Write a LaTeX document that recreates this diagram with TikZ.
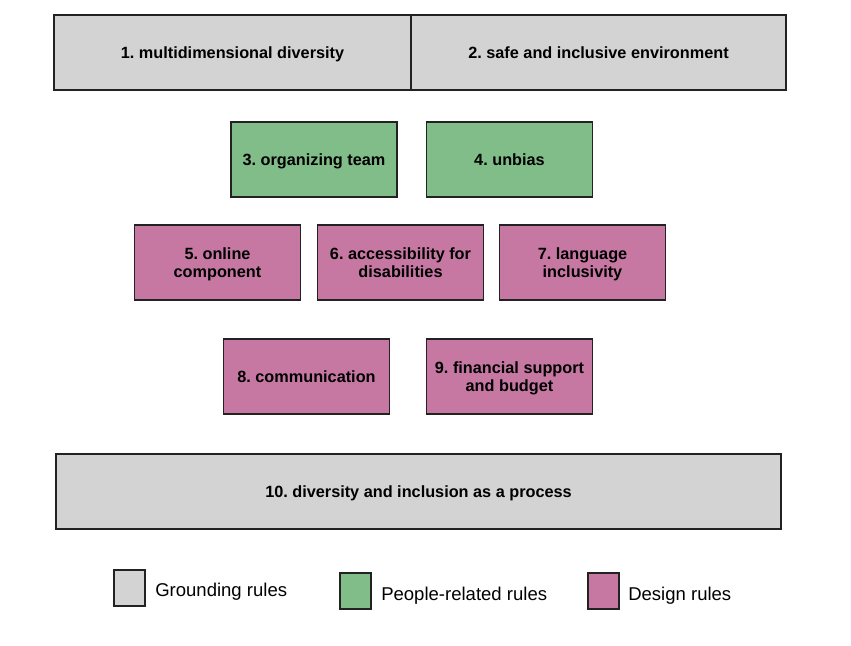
\documentclass[tikz,border=0pt]{standalone}
\usepackage{fontspec}
\setmainfont{Liberation Sans}
\frenchspacing
\definecolor{ground}{HTML}{D3D3D3}
\definecolor{people}{HTML}{81BD89}
\definecolor{design}{HTML}{C678A3}
\definecolor{edge}{HTML}{222222}
\begin{document}
\begin{tikzpicture}[x=0.75pt,y=-0.75pt,
  box/.style={draw=edge, line width=1.2pt, rectangle, inner sep=0pt, align=center,
    text depth=0pt,
    minimum height=75*0.75pt, font=\bfseries\fontsize{12.2pt}{14pt}\selectfont},
  gbox/.style={box, fill=ground},
  pbox/.style={box, fill=people, minimum width=166*0.75pt},
  dbox/.style={box, fill=design, minimum width=166*0.75pt},
  swatch/.style={draw=edge, line width=1pt, inner sep=0pt, minimum width=31*0.75pt, minimum height=36*0.75pt},
  legtext/.style={anchor=west, inner sep=0pt, font=\fontsize{13.9pt}{16pt}\selectfont}]
\useasboundingbox (0,0) rectangle (851,646);
\node[gbox, minimum width=357*0.75pt] (b1) at (232.5,52.5) {1. multidimensional diversity};
\node[gbox, minimum width=375*0.75pt] (b2) at (598.5,52.5) {2. safe and inclusive environment};
\node[pbox] (b3) at (314,159.5) {3. organizing team};
\node[pbox] (b4) at (509.5,159.5) {4. unbias};
\node[dbox] (b5) at (217.5,262.5) {5. online\\component};
\node[dbox] (b6) at (400.5,262.5) {6. accessibility for\\disabilities};
\node[dbox] (b7) at (582.5,262.5) {7. language\\inclusivity};
\node[dbox] (b8) at (306.5,376.5) {8. communication};
\node[dbox] (b9) at (509.5,376.5) {9. financial support\\and budget};
\node[gbox, minimum width=725*0.75pt] (b10) at (418.5,491.5) {10. diversity and inclusion as a process};
\node[swatch, fill=ground] (s1) at (129.5,588) {};
\node[swatch, fill=people] (s2) at (355.5,591) {};
\node[swatch, fill=design] (s3) at (603.5,591) {};
\node[legtext] (t1) at (155,592) {Grounding rules};
\node[legtext] (t2) at (381,596) {People-related rules};
\node[legtext] (t3) at (628,596) {Design rules};
\end{tikzpicture}
\end{document}
